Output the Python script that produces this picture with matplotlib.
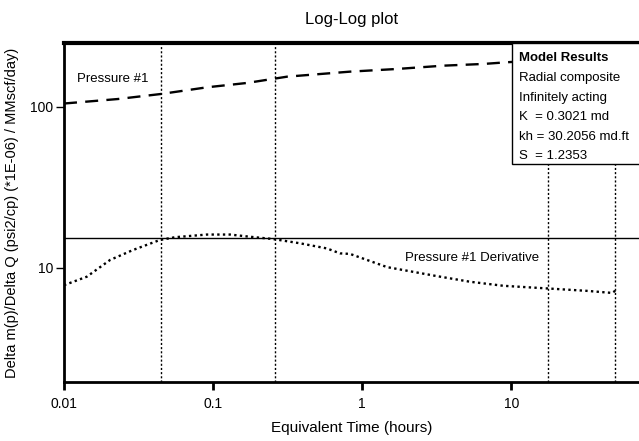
import matplotlib.pyplot as plt
from matplotlib.patches import Rectangle

# Pressure #1 (dashed curve)
p_time = [0.01, 0.023, 0.0448, 0.0912, 0.169, 0.314, 0.83, 1.72, 3.5, 6.5, 9.4, 20, 50]
p_vals = [105.1, 112.1, 120.5, 132.6, 141.1, 154.4, 165.9, 172.4, 180.7, 185.2, 189.8, 198, 208]

# Pressure #1 Derivative (dotted curve)
d_time = [0.01, 0.0142, 0.0204, 0.029, 0.044, 0.0556, 0.0908, 0.13, 0.177, 0.253,
          0.384, 0.58, 0.71, 0.83, 1.47, 3.17, 5.3, 8.87, 17.6, 32.2, 47.4, 50]
d_vals = [7.8, 8.8, 11.2, 12.9, 14.9, 15.5, 16.1, 16.1, 15.6, 15.1,
          14.2, 13.2, 12.3, 12.2, 10.1, 8.88, 8.19, 7.73, 7.44, 7.19, 6.98, 7.2]

stab_level = 15.4
markers_t = [0.0448, 0.26, 17.6, 50]

results = ["Radial composite", "Infinitely acting", "K  = 0.3021 md",
           "kh = 30.2056 md.ft", "S  = 1.2353"]

plt.rcParams['font.family'] = ['Liberation Sans', 'DejaVu Sans']

fig = plt.figure(figsize=(6.39, 4.41), dpi=100)
ax = fig.add_axes([0.1002, 0.1338, 0.8998, 0.7687])

ax.plot(p_time, p_vals, color='black', lw=1.7, dashes=(5.5, 3.5))
ax.plot(d_time, d_vals, color='black', lw=1.7, dashes=(1, 1.4))
ax.axhline(stab_level, color='black', lw=1)
for t in markers_t:
    ax.axvline(t, color='black', lw=1, ls=(0, (1.5, 1.5)))

ax.set_xscale('log')
ax.set_yscale('log')
ax.set_xlim(0.01, 72)
ax.set_ylim(1.95, 250)
ax.set_xticks([0.01, 0.1, 1, 10])
ax.set_xticklabels(['0.01', '0.1', '1', '10'])
ax.set_yticks([10, 100])
ax.set_yticklabels(['10', '100'])
ax.minorticks_off()
ax.tick_params(axis='x', length=6, width=2, labelsize=10, pad=5)
ax.tick_params(axis='y', length=6, width=1, labelsize=10, pad=2)

ax.spines['right'].set_visible(False)
ax.spines['top'].set_linewidth(3)
ax.spines['left'].set_linewidth(2)
ax.spines['bottom'].set_linewidth(2)

ax.text(0.0122, 149, 'Pressure #1', fontsize=9.5, va='center')
ax.text(1.95, 11.5, 'Pressure #1 Derivative', fontsize=9.5, va='center')

ax.set_title('Log-Log plot', fontsize=12, pad=14)
ax.set_xlabel('Equivalent Time (hours)', fontsize=11, labelpad=7)
ax.set_ylabel('Delta m(p)/Delta Q (psi2/cp) (*1E-06) / MMscf/day)', fontsize=10.5, labelpad=8)

# Model results box
ax.add_patch(Rectangle((0.779, 0.643), 0.25, 0.357, transform=ax.transAxes,
                       facecolor='white', edgecolor='black', lw=1, zorder=5,
                       clip_on=False))
ax.text(0.791, 0.956, 'Model Results', transform=ax.transAxes, fontsize=9.5,
        fontweight='bold', va='center', zorder=6)
for i, line in enumerate(results):
    ax.text(0.791, 0.897 - i * 0.0578, line, transform=ax.transAxes, fontsize=9.5,
            va='center', zorder=6)

fig.savefig('out.png', dpi=100)
